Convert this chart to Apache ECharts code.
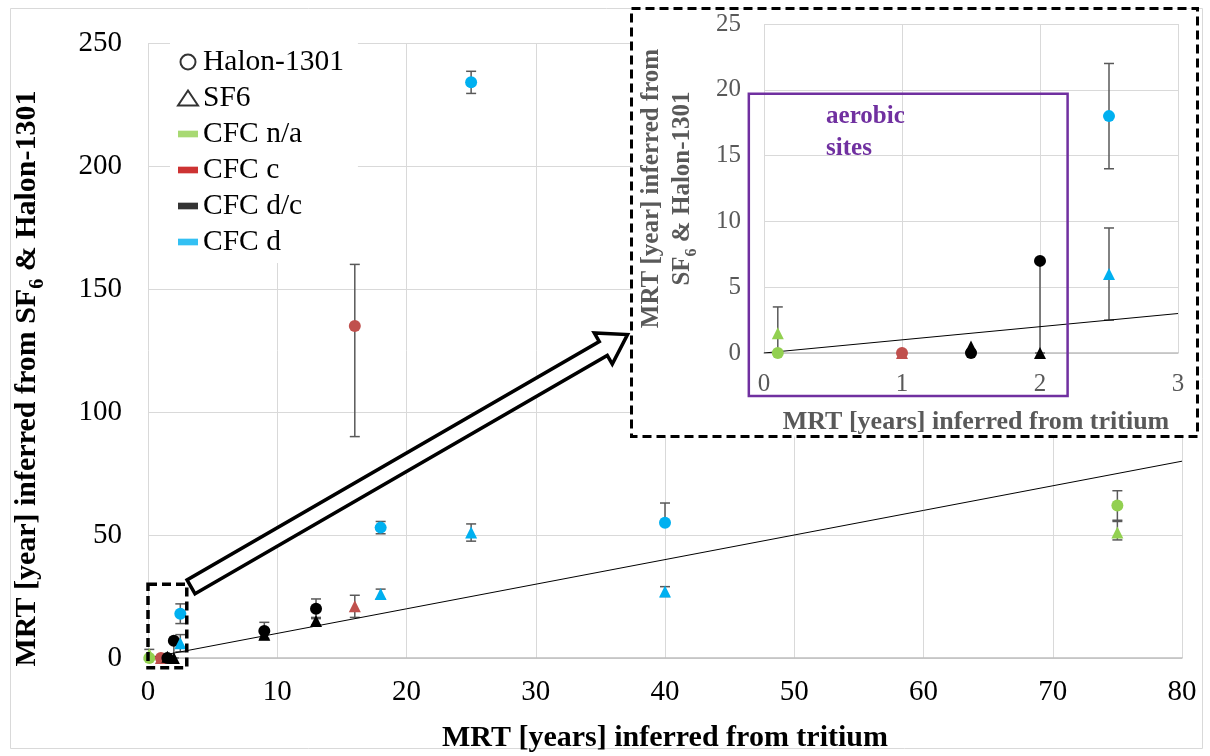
<!DOCTYPE html>
<html><head><meta charset="utf-8">
<script src="https://cdn.jsdelivr.net/npm/echarts@6/dist/echarts.min.js"></script>
<style>html,body{margin:0;padding:0;background:#fff}#c{width:1210px;height:756px}</style>
</head><body><div id="c"></div>
<script>
// ---------- DATA ----------
// each row: [tritium MRT, Halon-1301 MRT, -err, +err, SF6 MRT, -err, +err]
const cfcNA = [
  [0.1, 0, 0, 0, 1.5, 1.5, 2],
  [75, 62, 6, 6, 51, 3, 4.5]
];
const cfcC = [
  [1, 0, 0, 0, 0, 0, 0],
  [16, 135, 45, 25, 21, 4.5, 4.5]
];
const cfcDC = [
  [1.5, 0, 0, 0, 0.5, 0, 0],
  [2, 7, 7, 0, 0, 0, 0],
  [9, 11, 3.5, 3.5, 9.5, 1.5, 1.5],
  [13, 20, 4, 4, 15, 1.5, 1.5]
];
const cfcD = [
  [2.5, 18, 4, 4, 6, 3.5, 3.5],
  [18, 53, 2.5, 2.5, 26, 2, 2],
  [25, 234, 4.5, 4.5, 51, 3.5, 3.5],
  [40, 55, 0, 8, 27, 2, 2]
];
const oneToOneMain = [[0, 0], [80, 80]];
const oneToOneInset = [[0, 0], [3, 3]];
const categoryNames = ['CFC n/a', 'CFC c', 'CFC d/c', 'CFC d'];
const tracerNames = ['Halon-1301', 'SF6'];
const insetMaxX = 3;

// ---------- STYLE / LAYOUT ----------
const FONT = 'Liberation Serif';
const catColors = ['#92D050', '#C0504D', '#000000', '#00B0F0'];
const legendColors = ['#92D050', '#C00000', '#000000', '#00B0F0'];
const catRows = [cfcNA, cfcC, cfcDC, cfcD];
const GRIDC = '#D9D9D9';
const ERRC = '#595959';
const INSETC = '#595959';
// annotation anchors (data coordinates)
const zoomBoxMain = [[0, 30], [3, -4]];
const arrowFrom = [3.33, 28.9];
const arrowTo = [37.1, 131.5];
const aerobicBox = [[-0.11, 19.7], [2.2, -3.27]];
const aerobicLabelPos = [0.45, 19.2];

const chart = echarts.init(document.getElementById('c'));

function errData(rows, vi, filterInset) {
  const out = [];
  rows.forEach(r => {
    if (filterInset && r[0] > insetMaxX) return;
    const lo = r[vi + 1], hi = r[vi + 2];
    if (lo > 0 || hi > 0) out.push([r[0], r[vi] - lo, r[vi] + hi, lo > 0 ? 1 : 0, hi > 0 ? 1 : 0]);
  });
  return out;
}
function ptData(rows, vi, filterInset) {
  return rows.filter(r => !filterInset || r[0] <= insetMaxX).map(r => [r[0], r[vi]]);
}
function makeErrRender(cap) {
  return function (params, api) {
    const x = api.value(0), lo = api.value(1), hi = api.value(2);
    const p1 = api.coord([x, lo]), p2 = api.coord([x, hi]);
    const st = { stroke: ERRC, lineWidth: 1.5 };
    const ch = [{ type: 'line', shape: { x1: p1[0], y1: p1[1], x2: p2[0], y2: p2[1] }, style: st }];
    if (api.value(3)) ch.push({ type: 'line', shape: { x1: p1[0] - cap, y1: p1[1], x2: p1[0] + cap, y2: p1[1] }, style: st });
    if (api.value(4)) ch.push({ type: 'line', shape: { x1: p2[0] - cap, y1: p2[1], x2: p2[0] + cap, y2: p2[1] }, style: st });
    return { type: 'group', children: ch };
  };
}

const series = [];
[0, 1].forEach(g => {
  const inset = g === 1;
  const zb = inset ? 12 : 2;
  let errAll = [];
  catRows.forEach(rows => { errAll = errAll.concat(errData(rows, 1, inset), errData(rows, 4, inset)); });
  series.push({
    type: 'line', name: 'one-to-one', xAxisIndex: g, yAxisIndex: g, data: inset ? oneToOneInset : oneToOneMain,
    symbol: 'none', lineStyle: { color: '#000', width: 1 }, z: zb, silent: true
  });
  series.push({
    type: 'custom', name: 'error bars', xAxisIndex: g, yAxisIndex: g, data: errAll,
    renderItem: makeErrRender(5), z: zb, silent: true
  });
  catRows.forEach((rows, ci) => {
    series.push({
      type: 'scatter', name: categoryNames[ci] + ' ' + tracerNames[0], xAxisIndex: g, yAxisIndex: g,
      data: ptData(rows, 1, inset), symbol: 'circle', symbolSize: 12,
      itemStyle: { color: catColors[ci], opacity: 1 }, z: zb + 1
    });
    series.push({
      type: 'scatter', name: categoryNames[ci] + ' ' + tracerNames[1], xAxisIndex: g, yAxisIndex: g,
      data: ptData(rows, 4, inset), symbol: 'triangle', symbolSize: 12,
      itemStyle: { color: catColors[ci], opacity: 1 }, z: zb + 1
    });
  });
});
// legend-only series
const dashIcon = 'path://M0,0h18v6h-18z';
const legendData = [
  { name: tracerNames[0], icon: 'circle', itemStyle: { color: '#fff', borderColor: '#000', borderWidth: 2 } },
  { name: tracerNames[1], icon: 'triangle', itemStyle: { color: '#fff', borderColor: '#000', borderWidth: 2 } }
];
categoryNames.forEach((n, i) => legendData.push({ name: n, icon: dashIcon, itemStyle: { color: legendColors[i] } }));
legendData.forEach(d => series.push({ type: 'scatter', name: d.name, data: [], itemStyle: d.itemStyle }));

const axisText = { fontFamily: FONT, fontSize: 29, color: '#000' };
const insetText = { fontFamily: FONT, fontSize: 25, color: INSETC };

const option = {
  animation: false,
  backgroundColor: '#fff',
  grid: [
    { left: 148, right: 28, top: 43, bottom: 98, outerBoundsMode: 'none', containLabel: false },
    { left: 764, right: 32, top: 24, bottom: 403, outerBoundsMode: 'none', containLabel: false, z: 11 }
  ],
  xAxis: [
    {
      type: 'value', gridIndex: 0, min: 0, max: 80, interval: 10,
      name: 'MRT [years] inferred from tritium', nameLocation: 'middle', nameGap: 65, nameMoveOverlap: false,
      nameTextStyle: { fontFamily: FONT, fontSize: 30, fontWeight: 'bold', color: '#000' },
      axisLine: { show: true, lineStyle: { color: '#BFBFBF', width: 1.5 } }, axisTick: { show: false },
      axisLabel: Object.assign({ margin: 20 }, axisText),
      splitLine: { show: true, lineStyle: { color: GRIDC, width: 1 } }
    },
    {
      type: 'value', gridIndex: 1, min: 0, max: 3, interval: 1, z: 11,
      name: 'MRT [years] inferred from tritium', nameLocation: 'middle', nameGap: 56, nameMoveOverlap: false,
      nameTextStyle: { fontFamily: FONT, fontSize: 26, fontWeight: 'bold', color: INSETC, padding: [0, 0, 0, 10] },
      axisLine: { show: true, lineStyle: { color: '#BFBFBF', width: 1.5 } }, axisTick: { show: false },
      axisLabel: Object.assign({ margin: 19 }, insetText),
      splitLine: { show: true, lineStyle: { color: GRIDC, width: 1 } }
    }
  ],
  yAxis: [
    {
      type: 'value', gridIndex: 0, min: 0, max: 250, interval: 50,
      name: 'MRT [year] inferred from SF{s|6} & Halon-1301', nameLocation: 'middle', nameGap: 100, nameMoveOverlap: false,
      nameTextStyle: {
        fontFamily: FONT, fontSize: 30, fontWeight: 'bold', color: '#000', padding: [0, 56, 0, 0],
        rich: { s: { fontFamily: FONT, fontSize: 20, fontWeight: 'bold', color: '#000', verticalAlign: 'bottom', lineHeight: 41 } }
      },
      axisLine: { show: false }, axisTick: { show: false },
      axisLabel: Object.assign({ margin: 26 }, axisText),
      splitLine: { show: true, lineStyle: { color: GRIDC, width: 1 } }
    },
    {
      type: 'value', gridIndex: 1, min: 0, max: 25, interval: 5, z: 11,
      name: 'MRT [year] inferred from\nSF{s|6} & Halon-1301', nameLocation: 'middle', nameGap: 64, nameMoveOverlap: false,
      nameTextStyle: {
        fontFamily: FONT, fontSize: 25, fontWeight: 'bold', color: INSETC, lineHeight: 28,
        rich: { s: { fontFamily: FONT, fontSize: 16, fontWeight: 'bold', color: INSETC, verticalAlign: 'bottom', lineHeight: 34 } }
      },
      axisLine: { show: false }, axisTick: { show: false },
      axisLabel: Object.assign({ margin: 23 }, insetText),
      splitLine: { show: true, lineStyle: { color: GRIDC, width: 1 } }
    }
  ],
  legend: {
    orient: 'vertical', left: 170, top: 41, backgroundColor: '#fff', padding: [6, 14, 6, 7],
    itemGap: 6, itemWidth: 20, itemHeight: 15, selectedMode: false, z: 4,
    textStyle: { fontFamily: FONT, fontSize: 29.5, color: '#000', lineHeight: 30 },
    data: legendData
  },
  series: series
};
chart.setOption(option);

// ---------- annotations (anchored to the axes) ----------
function buildGraphic() {
  const toM = p => chart.convertToPixel({ gridIndex: 0 }, p);
  const toI = p => chart.convertToPixel({ gridIndex: 1 }, p);
  const zb0 = toM(zoomBoxMain[0]), zb1 = toM(zoomBoxMain[1]);
  const S = toM(arrowFrom), T = toM(arrowTo);
  const dx = T[0] - S[0], dy = T[1] - S[1], len = Math.hypot(dx, dy);
  const u = [dx / len, dy / len], n = [-u[1], u[0]];
  const w = 8, H = 18, L = 28;
  const B = [T[0] - u[0] * L, T[1] - u[1] * L];
  const P = (p, k) => [p[0] + n[0] * k, p[1] + n[1] * k];
  const arrowPts = [P(S, w), P(B, w), P(B, H), T, P(B, -H), P(B, -w), P(S, -w)];
  const ab0 = toI(aerobicBox[0]), ab1 = toI(aerobicBox[1]);
  const lab = toI(aerobicLabelPos);
  chart.setOption({
    graphic: [
      { type: 'rect', z: 0, silent: true, shape: { x: 10.5, y: 8.5, width: 1192, height: 740 }, style: { fill: null, stroke: '#D9D9D9', lineWidth: 1 } },
      { type: 'rect', z: 6, silent: true, shape: { x: zb0[0], y: zb0[1], width: zb1[0] - zb0[0], height: zb1[1] - zb0[1] }, style: { fill: null, stroke: '#000', lineWidth: 3.5, lineDash: [9, 5] } },
      { type: 'polygon', z: 6, silent: true, shape: { points: arrowPts }, style: { fill: '#fff', stroke: '#000', lineWidth: 3.5 } },
      { type: 'rect', z: 10, silent: true, shape: { x: 631.5, y: 8.5, width: 566, height: 428 }, style: { fill: '#fff', stroke: '#000', lineWidth: 3, lineDash: [9, 5] } },
      { type: 'rect', z: 20, silent: true, shape: { x: ab0[0], y: ab0[1], width: ab1[0] - ab0[0], height: ab1[1] - ab0[1] }, style: { fill: null, stroke: '#7030A0', lineWidth: 2.5 } },
      { type: 'text', z: 20, silent: true, x: lab[0], y: lab[1], style: { text: 'aerobic\nsites', font: 'bold 25px "Liberation Serif"', fill: '#7030A0', lineHeight: 32, verticalAlign: 'top' } }
    ]
  });
}
buildGraphic();
</script></body></html>
